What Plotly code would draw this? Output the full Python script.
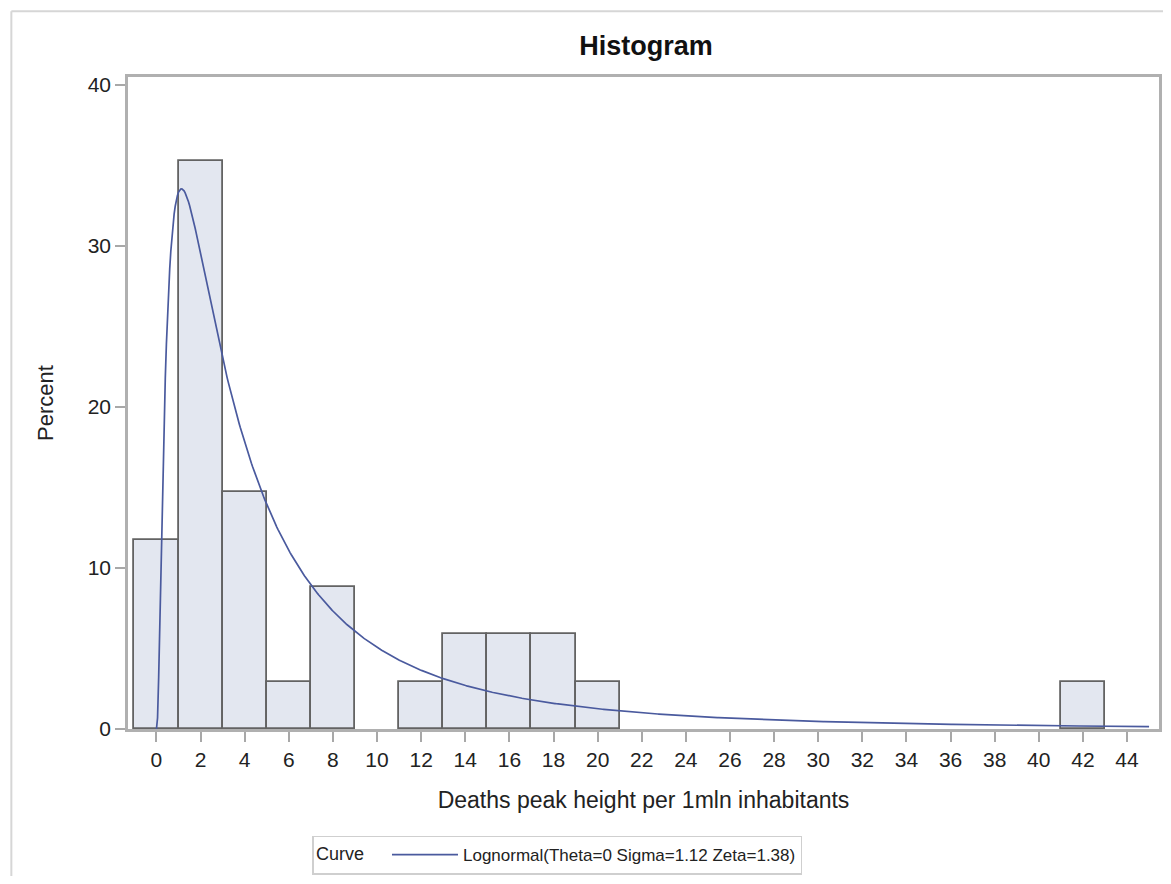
import numpy as np
import plotly.graph_objects as go

# Histogram data (bin midpoints, percent)
bin_mid = [0, 2, 4, 6, 8, 10, 12, 14, 16, 18, 20, 42]
percent = [11.76, 35.29, 14.71, 2.94, 8.82, 0.0, 2.94, 5.88, 5.88, 5.88, 2.94, 2.94]
bin_width = 2

# Fitted lognormal parameters (from the legend)
theta = 0.0
sigma = 1.12
zeta = 1.38
curve_end = 45

x_ticks = list(range(0, 46, 2))
y_ticks = [0, 10, 20, 30, 40]

xs = np.linspace(theta + 1e-4, curve_end, 900)
pdf = np.exp(-(np.log(xs - theta) - zeta) ** 2 / (2 * sigma ** 2)) / ((xs - theta) * sigma * np.sqrt(2 * np.pi))
ys = 100 * bin_width * pdf
xs = np.concatenate([[theta], xs])
ys = np.concatenate([[0.0], ys])

# empty bins draw no bar
bar_x = [m for m, p in zip(bin_mid, percent) if p > 0]
bar_y = [p for p in percent if p > 0]

FONT = "Liberation Sans, Arial, sans-serif"

fig = go.Figure()
fig.add_trace(go.Bar(
    x=bar_x, y=bar_y, width=bin_width,
    marker=dict(color="#e3e7f0", line=dict(color="#636363", width=1.8)),
    showlegend=False, hoverinfo="x+y",
))
fig.add_trace(go.Scatter(
    x=xs, y=ys, mode="lines",
    line=dict(color="#4a5a9e", width=1.7),
    name="Lognormal(Theta=0 Sigma=1.12 Zeta=1.38)",
    showlegend=True,
))

OFF = 8  # page body margin
W, H = 1171 - 2 * OFF, 884 - 2 * OFF
# target page-pixel positions of the plot frame
L, R, T, B = 128, 1162, 77, 732
Lf, Rf, Tf, Bf = L - OFF, R - OFF, T - OFF, B - OFF
pw, ph = Rf - Lf, Bf - Tf

def px(xpage):
    return (xpage - OFF - Lf) / pw

def py(ypage):
    return (Bf - (ypage - OFF)) / ph

fig.update_layout(
    width=W, height=H,
    margin=dict(l=Lf, r=W - Rf, t=Tf, b=H - Bf, pad=0),
    paper_bgcolor="white", plot_bgcolor="white",
    font=dict(family=FONT, color="#222222", size=20),
    bargap=0,
    title=dict(text="<b>Histogram</b>", xref="container", x=(646 - OFF) / W, xanchor="center",
               y=1 - (46 - OFF) / H, yanchor="middle", font=dict(size=27, color="#111111")),
    xaxis=dict(
        range=[-1.29, 45.45], tickvals=x_ticks, ticktext=[str(v) for v in x_ticks],
        ticks="outside", ticklen=10, tickcolor="#a8a8a8", tickwidth=1.5,
        showline=True, linecolor="#b0b0b0", linewidth=2.5, mirror=True,
        showgrid=False, zeroline=False,
        title=dict(text="Deaths peak height per 1mln inhabitants", standoff=22,
                   font=dict(size=23)),
        tickfont=dict(size=21),
    ),
    yaxis=dict(
        range=[0, 40.5], tickvals=y_ticks,
        ticks="outside", ticklen=10, tickcolor="#a8a8a8", tickwidth=1.5,
        showline=True, linecolor="#b0b0b0", linewidth=2.5, mirror=True,
        showgrid=False, zeroline=False,
        title=dict(text="Percent", standoff=28, font=dict(size=22)),
        tickfont=dict(size=21),
    ),
    legend=dict(
        orientation="h", x=px(313), xanchor="left", y=py(839), yanchor="top",
        bordercolor="#cfcfcf", borderwidth=1.5, bgcolor="white",
        title=dict(text="Curve   ", side="left", font=dict(size=18)),
        font=dict(size=17), itemwidth=66,
    ),
    shapes=[
        dict(type="line", xref="paper", yref="paper",
             x0=px(11), x1=px(1200), y0=py(11), y1=py(11),
             line=dict(color="#d6d6d6", width=2)),
        dict(type="line", xref="paper", yref="paper",
             x0=px(11), x1=px(11), y0=py(11), y1=py(900),
             line=dict(color="#d6d6d6", width=2)),
    ],
)

fig.write_html("out.html")
